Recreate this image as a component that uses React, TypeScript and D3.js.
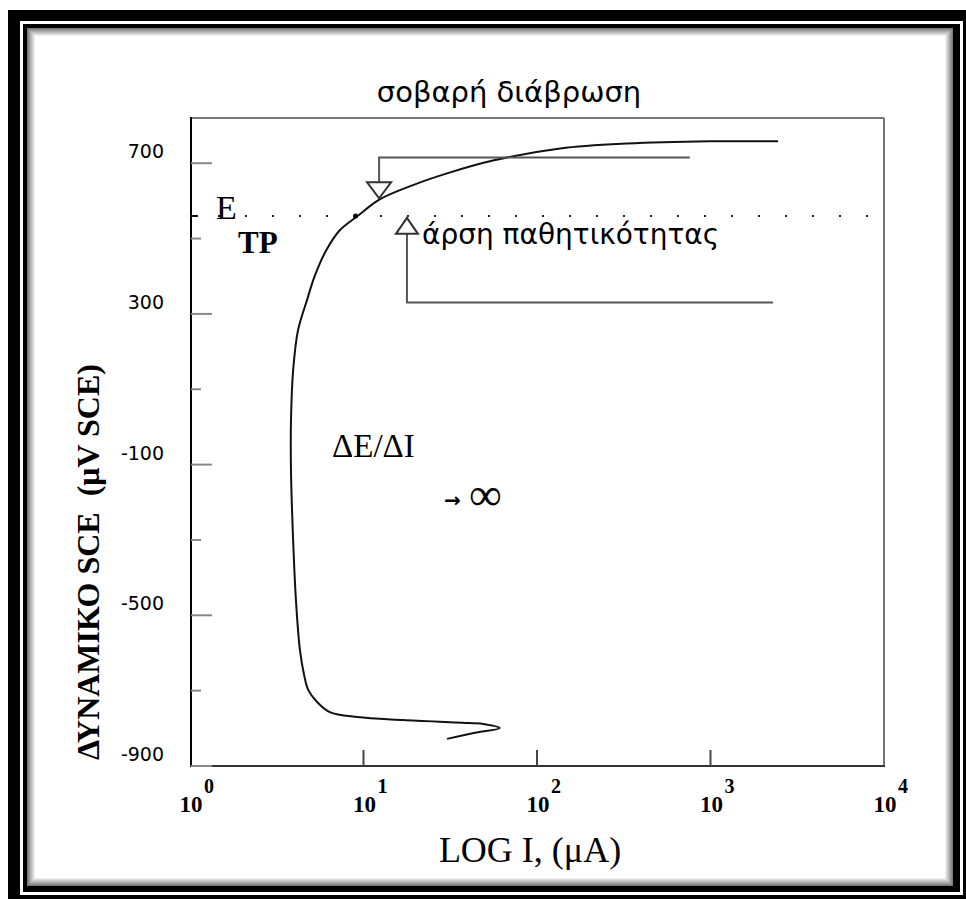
import * as d3 from "d3";

// polarization curve (current in µA, potential)
const currentUA = [30.3, 43.9, 61, 50, 41, 16.9, 9.2, 6.4, 5.4, 4.8, 4.55, 4.3, 4.08, 3.93, 3.82, 3.82, 3.93, 4.19, 4.72, 5.25, 6.1, 7.3, 9.2, 12.4, 19.3, 30.3, 55.7, 136, 330, 990, 2450];
const potential = [-828, -812, -799, -789, -786, -778, -770, -757, -730, -698, -659, -592, -460, -300, -115, 18, 150, 256, 336, 402, 469, 522, 559, 604, 642, 673, 707, 739, 752, 758, 758];

const majorTicksY = [-900, -500, -100, 300, 700];
const minorTicksY = [-700, -300, 100, 500];
const decadeExponents = [0, 1, 2, 3, 4];
const eTP = 560;

// annotation brackets (µA, potential)
const downArrow = { i0: 12.3, i1: 760, eTop: 715, eTip: 607 };
const upArrow = { i0: 17.8, i1: 2290, eTip: 555, eBottom: 330 };

const W = 966;
const H = 899;

export default function App() {
  const x = d3.scaleLog().domain([1, 1e4]).range([190, 884]);
  const y = d3.scaleLinear().domain([-900, 820]).range([766, 118]);

  const pts: [number, number][] = currentUA.map((c, i) => [x(c), y(potential[i])]);
  const line = d3.line().curve(d3.curveCatmullRom.alpha(0.5));

  // inner shadow of the picture frame
  const shadow = d3.range(9).map((i) => ({
    i,
    color: d3.interpolateRgb("#7a7a7a", "#ffffff")(i / 8),
  }));

  const serif = "'Liberation Serif', 'DejaVu Serif', serif";
  const sans = "'DejaVu Sans', sans-serif";

  const tri = 8; // half-width of arrow heads
  const dn = { x: x(downArrow.i0), top: y(downArrow.eTop), tip: y(downArrow.eTip), right: x(downArrow.i1) };
  const up = { x: x(upArrow.i0), tip: y(upArrow.eTip), bottom: y(upArrow.eBottom), right: x(upArrow.i1) };

  return (
    <>
      <style>{`body{margin:0;background:#fff}`}</style>
      <svg width={W} height={H} style={{ display: "block" }}>
        {/* frame */}
        <rect x={8} y={10} width={W} height={H} fill="#000" />
        <rect x={20} y={21} width={943} height={874} fill="#fff" />
        <rect x={23} y={24} width={937} height={868} fill="#000" />
        <rect x={27} y={28} width={926} height={858} fill="#fff" />
        {shadow.map((s) => (
          <rect
            key={s.i}
            x={27.5 + s.i}
            y={28.5 + s.i}
            width={925 - 2 * s.i}
            height={857 - 2 * s.i}
            fill="none"
            stroke={s.color}
            strokeWidth={1}
          />
        ))}

        {/* title */}
        <text x={509} y={102} textAnchor="middle" fontFamily={sans} fontSize={29} fill="#000">
          σοβαρή διάβρωση
        </text>

        {/* plot box */}
        <line x1={190} x2={884} y1={118} y2={118} stroke="#777" strokeWidth={2} />
        <line x1={884} x2={884} y1={118} y2={766} stroke="#777" strokeWidth={2} />
        <line x1={191} x2={191} y1={117} y2={767} stroke="#000" strokeWidth={2} />
        <line x1={190} x2={885} y1={766} y2={766} stroke="#333" strokeWidth={2} />

        {/* y ticks */}
        {majorTicksY.map((v) => (
          <g key={v}>
            <line x1={191} x2={212} y1={y(v)} y2={y(v)} stroke="#888" strokeWidth={2} />
            <text x={164} y={y(v) - 5} textAnchor="end" fontFamily={sans} fontSize={19} fill="#000">
              {v}
            </text>
          </g>
        ))}
        {minorTicksY.map((v) => (
          <line key={v} x1={191} x2={201} y1={y(v)} y2={y(v)} stroke="#888" strokeWidth={2} />
        ))}
        <line x1={191} x2={198} y1={y(eTP)} y2={y(eTP)} stroke="#000" strokeWidth={2} />

        {/* x ticks */}
        {decadeExponents.slice(1, 4).map((e) => (
          <line key={e} x1={x(10 ** e)} x2={x(10 ** e)} y1={766} y2={750} stroke="#444" strokeWidth={2} />
        ))}
        {decadeExponents.map((e) => (
          <g key={e} fontFamily={serif} fontWeight="bold" fill="#000">
            <text x={x(10 ** e) + 1} y={812} textAnchor="middle" fontSize={23}>
              10
            </text>
            <text x={x(10 ** e) + 14} y={793} fontSize={20}>
              {e}
            </text>
          </g>
        ))}

        {/* axis titles */}
        <text x={530} y={862} textAnchor="middle" fontFamily={serif} fontSize={36} fill="#000">
          LOG I, (μA)
        </text>
        <text
          transform="translate(99,562) rotate(-90)"
          textAnchor="middle"
          fontFamily={serif}
          fontWeight="bold"
          fontSize={32}
          fill="#000"
          style={{ whiteSpace: "pre" }}
        >
          {"ΔΥΝΑΜΙΚΟ SCE  (μV SCE)"}
        </text>

        {/* E_TP level */}
        <line x1={191} x2={884} y1={y(eTP)} y2={y(eTP)} stroke="#222" strokeWidth={2} strokeDasharray="2,25" />
        <text x={216} y={219} fontFamily={serif} fontSize={34} fill="#000">
          E
        </text>
        <text x={238} y={253} fontFamily={serif} fontWeight="bold" fontSize={31} fill="#000">
          TP
        </text>

        {/* curve */}
        <path d={line(pts) || ""} fill="none" stroke="#111" strokeWidth={2} />
        <circle cx={x(9.0)} cy={y(eTP)} r={2.5} fill="#000" />

        {/* down arrow bracket */}
        <path
          d={`M${dn.right},${dn.top}H${dn.x}V${dn.tip - 16}`}
          fill="none"
          stroke="#555"
          strokeWidth={2}
        />
        <path
          d={`M${dn.x - tri - 4},${dn.tip - 16}H${dn.x + tri + 4}L${dn.x},${dn.tip}Z`}
          fill="#fff"
          stroke="#333"
          strokeWidth={2}
        />

        {/* up arrow bracket */}
        <path
          d={`M${up.right},${up.bottom}H${up.x}V${up.tip + 16}`}
          fill="none"
          stroke="#555"
          strokeWidth={2}
        />
        <path
          d={`M${up.x - tri - 3},${up.tip + 16}H${up.x + tri + 3}L${up.x},${up.tip}Z`}
          fill="#fff"
          stroke="#333"
          strokeWidth={2}
        />
        <text x={422} y={244} fontFamily={sans} fontSize={28} fill="#000">
          άρση παθητικότητας
        </text>

        {/* dE/dI annotation */}
        <text x={332} y={457} fontFamily={serif} fontSize={33} fill="#000">
          ΔE/ΔI
        </text>
        <text x={444} y={507} fontFamily={sans} fontWeight="bold" fontSize={20} fill="#000">
          →
        </text>
        <text x={469} y={510} fontFamily={serif} fontSize={46} fill="#000">
          ∞
        </text>
      </svg>
    </>
  );
}
